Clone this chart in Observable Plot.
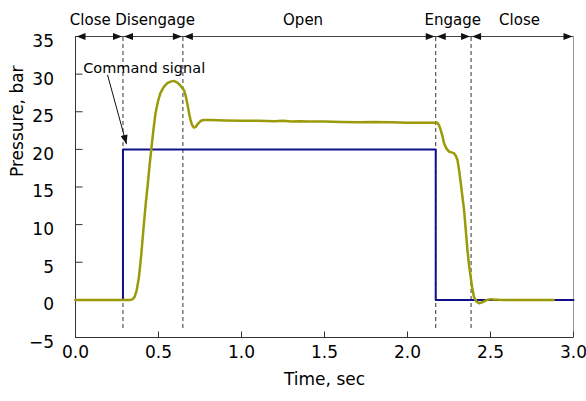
<!DOCTYPE html>
<html><head><meta charset="utf-8">
<script src="https://cdn.jsdelivr.net/npm/d3@7"></script>
<script src="https://cdn.jsdelivr.net/npm/@observablehq/plot@0.6"></script>
<style>body{margin:0;background:#fff} #chart svg{display:block}</style>
</head><body><div id="chart"></div>
<script>
// measured pressure (bar) vs time (sec)
const timeSec = [0,0.1,0.2,0.3,0.331,0.345,0.356,0.368,0.382,0.397,0.412,0.424,0.436,0.446,0.456,0.469,0.482,0.497,0.512,0.532,0.553,0.573,0.593,0.608,0.623,0.638,0.653,0.665,0.677,0.686,0.693,0.703,0.713,0.725,0.737,0.755,0.774,0.814,0.9,1.0,1.1,1.2,1.25,1.3,1.35,1.4,1.5,1.6,1.7,1.8,1.9,2.0,2.1,2.18,2.19,2.2,2.21,2.22,2.235,2.25,2.265,2.28,2.29,2.301,2.311,2.321,2.331,2.341,2.351,2.361,2.371,2.381,2.391,2.401,2.415,2.431,2.446,2.461,2.48,2.501,2.52,2.562,2.7,2.88];
const pressureBar = [0,0,0,0,0,0.1,0.4,1.2,3.0,6.2,10.1,13.0,15.5,17.8,19.9,22.5,24.8,26.4,27.5,28.3,28.8,29.0,29.1,28.95,28.7,28.3,27.9,27.0,25.7,24.6,23.9,23.2,22.9,23.0,23.4,23.8,23.9,23.9,23.85,23.8,23.8,23.75,23.8,23.7,23.75,23.7,23.7,23.65,23.6,23.65,23.6,23.55,23.55,23.55,23.2,22.6,21.8,20.8,20.1,19.7,19.6,19.5,19.2,18.6,17.2,15.5,13.7,11.9,9.3,6.6,4.6,3.0,1.4,0.35,-0.2,-0.45,-0.35,-0.2,0,0.1,0.05,0,0,0];
// command signal
const cmdTime = [0,0.286,0.286,2.17,2.17,3.0];
const cmdValue = [0,0,20,20,0,0];
// phases
const phaseNames = ["Close","Disengage","Open","Engage","Close"];
const phaseLabelX = [0.089,0.48,1.371,2.272,2.675];
const phaseBounds = [0,0.286,0.647,2.17,2.383,3.0];
// axes
const xDomain = [0,3];
const yDomain = [-5,35];
const xTicks = [0,0.5,1,1.5,2,2.5,3];
const yTicks = [-5,0,5,10,15,20,25,30,35];
const xLabel = "Time, sec";
const yLabel = "Pressure, bar";
// annotation
const noteText = ["Command signal"];
const notePos = [0.046,30.8];
const noteArrowFrom = [0.193,29.9];
const noteArrowTo = [0.307,20.7];

const triRight = {draw(c){c.moveTo(0,0);c.lineTo(-9,-3.5);c.lineTo(-9,3.5);c.closePath();}};
const triLeft = {draw(c){c.moveTo(0,0);c.lineTo(9,-3.5);c.lineTo(9,3.5);c.closePath();}};
const tickUp = {draw(c){c.moveTo(0,0);c.lineTo(0,-6);}};
const tickRight = {draw(c){c.moveTo(0,0);c.lineTo(7,0);}};
const headDown = {draw(c){c.moveTo(0,0);c.lineTo(-3.5,-9);c.lineTo(3.5,-9);c.closePath();}};

const font = "DejaVu Sans";
const chart = Plot.plot({
  width: 586, height: 401,
  marginTop: 36, marginBottom: 64, marginLeft: 75, marginRight: 13,
  x: {domain: xDomain, axis: null},
  y: {domain: yDomain, axis: null},
  style: {fontFamily: font, fontSize: "17px", background: "#fff", color: "#000", overflow: "visible"},
  marks: [
    // dashed phase boundaries
    Plot.ruleX(phaseBounds.slice(1,-1), {x: d=>d, y1: yDomain[0], y2: yDomain[1], insetTop: -9, stroke: "#333", strokeWidth: 1, strokeDasharray: "4,3"}),
    // frame
    Plot.ruleX([xDomain[1]], {y1: yDomain[0], y2: yDomain[1], stroke: "#999", strokeWidth: 1}),
    Plot.ruleX([xDomain[0]], {y1: yDomain[0], y2: yDomain[1], stroke: "#333", strokeWidth: 1}),
    Plot.ruleY([yDomain[0]], {x1: xDomain[0], x2: xDomain[1], stroke: "#333", strokeWidth: 1}),
    Plot.ruleY([yDomain[1]], {x1: xDomain[0], x2: xDomain[1], stroke: "#444", strokeWidth: 1}),
    // ticks
    Plot.dot(xTicks, {x: d=>d, y: yDomain[0], symbol: tickUp, fill: "none", stroke: "#333", strokeWidth: 1}),
    Plot.dot(yTicks, {x: xDomain[0], y: d=>d, symbol: tickRight, fill: "none", stroke: "#333", strokeWidth: 1}),
    // tick labels
    Plot.text(xTicks, {x: d=>d, y: yDomain[0], dy: 15, text: d=>d.toFixed(1), fontSize: 17, fill: "#000"}),
    Plot.text(yTicks, {x: xDomain[0], y: d=>d, dx: -21.5, dy: 5, textAnchor: "end", text: d=> d<0 ? "\u2212"+(-d) : String(d), fontSize: 17, fill: "#000"}),
    // axis labels
    Plot.text([xLabel], {frameAnchor: "bottom", dy: 47, fontSize: 17, fill: "#000"}),
    Plot.text([yLabel], {frameAnchor: "left", rotate: -90, dx: -58, dy: -10, fontSize: 17, fill: "#000"}),
    // phase arrows
    Plot.dot(phaseBounds.slice(1), {x: d=>d, y: yDomain[1], dx: -1, symbol: triRight, fill: "#111", stroke: "none"}),
    Plot.dot(phaseBounds.slice(0,-1), {x: d=>d, y: yDomain[1], dx: 1, symbol: triLeft, fill: "#111", stroke: "none"}),
    Plot.text(phaseNames, {x: (d,i)=>phaseLabelX[i], y: yDomain[1], dy: -16, fontSize: 15, fill: "#000"}),
    // series
    Plot.line(cmdTime, {x: d=>d, y: (d,i)=>cmdValue[i], stroke: "#10108a", strokeWidth: 2, curve: "linear"}),
    Plot.line(timeSec, {x: d=>d, y: (d,i)=>pressureBar[i], stroke: "#9a9a0a", strokeWidth: 2.5, curve: "linear"}),
    // annotation
    Plot.link([0], {x1: noteArrowFrom[0], y1: noteArrowFrom[1], x2: noteArrowTo[0], y2: noteArrowTo[1], stroke: "#111", strokeWidth: 1}),
    Plot.dot([0], {x: noteArrowTo[0], y: noteArrowTo[1], symbol: headDown, rotate: -15, fill: "#111", stroke: "none"}),
    Plot.text(noteText, {x: notePos[0], y: notePos[1], textAnchor: "start", fontSize: 14.5, fill: "#000"})
  ]
});
document.getElementById("chart").appendChild(chart);
</script>
</body></html>
